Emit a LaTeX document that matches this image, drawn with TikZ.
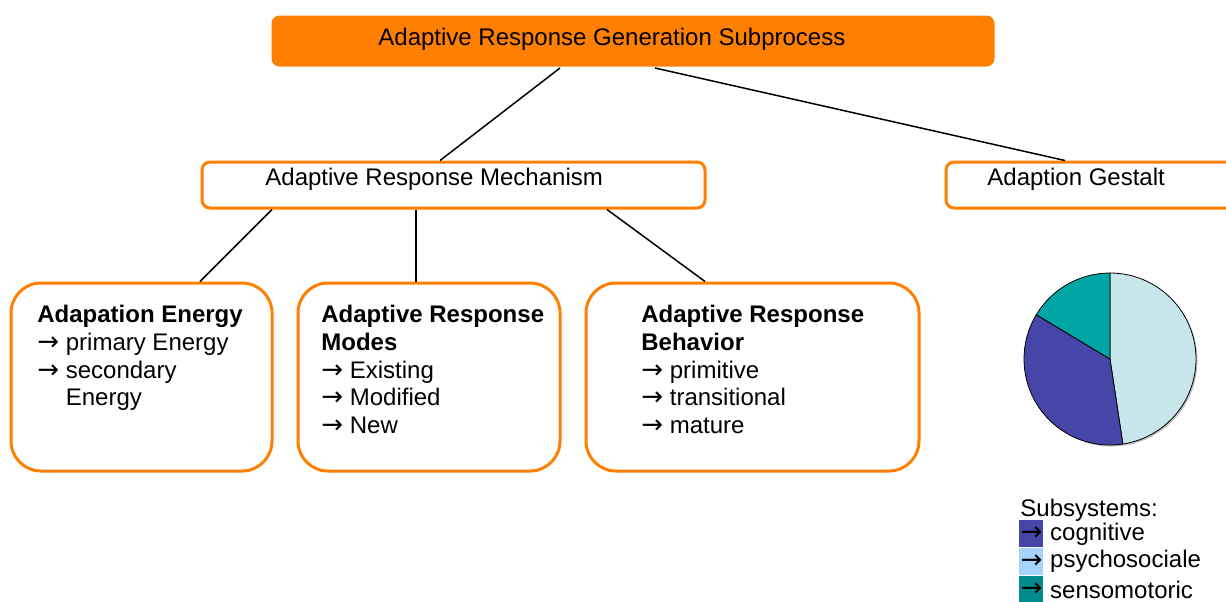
\documentclass[tikz,border=0pt]{standalone}
\usepackage{fontspec}
\setmainfont{Liberation Sans}
\newfontfamily\arrowfont{DejaVu Sans}
\usepackage{tikz}
\usetikzlibrary{calc}
\definecolor{argorange}{HTML}{FF7F00}
\definecolor{pielight}{HTML}{C6E6EA}
\definecolor{pieblue}{HTML}{4646A8}
\definecolor{pieteal}{HTML}{00A6A6}
\definecolor{leglight}{HTML}{A6D4FF}
\definecolor{legteal}{HTML}{008C8C}
\newcommand{\rarr}{{\arrowfont\fontsize{13}{13.8}\selectfont →}}

\begin{document}
\begin{tikzpicture}[x=0.5pt, y=-0.5pt,
  every node/.style={font=\fontsize{12}{13.8}\selectfont},
  procbox/.style={draw=argorange, line width=1.5pt, rounded corners=4pt, anchor=north west, inner sep=0pt, minimum height=23pt},
  subbox/.style={draw=argorange, line width=1.5pt, rounded corners=15pt, anchor=north west, inner sep=0pt, minimum height=94pt},
  txt/.style={anchor=north west, inner sep=0pt, align=left},
  legsq/.style={anchor=north west, inner sep=0pt, minimum width=12pt, minimum height=13.5pt},
  link/.style={draw=black, line width=0.75pt}]
\useasboundingbox (0,0) rectangle (1226,601);
\node[procbox, fill=argorange, draw=none, minimum width=361.5pt, minimum height=25.5pt](gen) at (270,14) {};
\node[txt](gentxt) at ([xshift=54pt, yshift=-7pt]gen.north west) {Adaptive Response Generation Subprocess};
%
\node[procbox, minimum width=251.5pt](mech) at (200.5,160.5) {};
\node[txt](mechtxt) at ([xshift=32.25pt, yshift=-3.5pt]mech.north west) {Adaptive Response Mechanism};
\node[procbox, minimum width=150pt](gestalt) at (944.5,160.5) {};
\node[txt](gestalttxt) at ([xshift=21.25pt, yshift=-3.5pt]gestalt.north west) {Adaption Gestalt};
%
\node[subbox, minimum width=130.5pt](energy) at (9.5,281.5) {};
\node[txt](energytxt) at ([xshift=13.75pt, yshift=-11.75pt]energy.north west) {\textbf{Adapation Energy}\\ \rarr{} primary Energy\\ \rarr{} secondary\\ \phantom{\rarr{}} Energy};
\node[subbox, minimum width=131pt](modes) at (296.5,281.5) {};
\node[txt](modestxt) at ([xshift=12.25pt, yshift=-11.75pt]modes.north west) {\textbf{Adaptive Response}\\ \textbf{Modes}\\ \rarr{} Existing\\ \rarr{} Modified\\ \rarr{} New};
\node[subbox, minimum width=166.5pt](behav) at (584.5,281.5) {};
\node[txt](behavtxt) at ([xshift=28.25pt, yshift=-11.75pt]behav.north west) {\textbf{Adaptive Response}\\ \textbf{Behavior}\\ \rarr{} primitive\\ \rarr{} transitional\\ \rarr{} mature};
%
\draw[link]([xshift=145pt]gen.south west) -- ([xshift=119.75pt]mech.north west);
\draw[link]([xshift=192.5pt]gen.south west) -- ([xshift=60.25pt]gestalt.north west);
\draw[link]([xshift=35.75pt]mech.south west) -- ([xshift=95.25pt]energy.north west);
\draw[link]([xshift=107.75pt]mech.south west) -- ([xshift=59.75pt]modes.north west);
\draw[link]([xshift=203.25pt]mech.south west) -- ([xshift=60.25pt]behav.north west);
%
% pie of the subsystems
\begin{scope}[shift={(1110,359)}, x=0.5pt, y=0.5pt]
\fill[black!25] (1.5,-1.5) circle[radius=86];
\filldraw[fill=pielight, draw=black, line width=0.4pt] (0,0) -- (90:86) arc[start angle=90, end angle=-81.4, radius=86] -- cycle;
\filldraw[fill=pieblue, draw=black, line width=0.4pt] (0,0) -- (-81.4:86) arc[start angle=-81.4, end angle=-211, radius=86] -- cycle;
\filldraw[fill=pieteal, draw=black, line width=0.4pt] (0,0) -- (149:86) arc[start angle=149, end angle=90, radius=86] -- cycle;
\end{scope}
%
\node[txt](subsys) at (1020,498.5) {Subsystems:};
\node[legsq, fill=pieblue](legcog) at (1019,520) {\rarr};
\node[legsq, fill=leglight](legpsy) at (legcog.south west) {\rarr};
\node[legsq, fill=legteal](legsen) at (legpsy.south west) {\rarr};
\node[anchor=west, inner sep=0pt](cogtxt) at ([xshift=3pt]legcog.east) {cognitive};
\node[anchor=west, inner sep=0pt](psytxt) at ([xshift=3pt]legpsy.east) {psychosociale};
\node[anchor=west, inner sep=0pt](sentxt) at ([xshift=3pt]legsen.east) {sensomotoric};
\end{tikzpicture}
\end{document}
